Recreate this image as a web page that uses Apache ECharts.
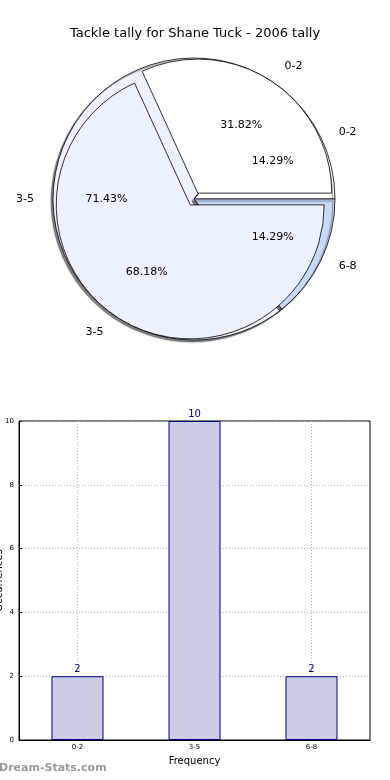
<!DOCTYPE html>
<html>
<head>
<meta charset="utf-8">
<script src="https://cdn.jsdelivr.net/npm/echarts@6/dist/echarts.min.js"></script>
<style>html,body{margin:0;padding:0;background:#fff;}#c{width:390px;height:780px;}</style>
</head>
<body>
<div id="c"></div>
<script>
var titleText = 'Tackle tally for Shane Tuck - 2006 tally';
var pieOuterCats = ['0-2', '3-5'];
var pieOuterPct = [31.82, 68.18];
var pieInnerCats = ['0-2', '3-5', '6-8'];
var pieInnerVals = [2, 10, 2];
var barCats = ['0-2', '3-5', '6-8'];
var barVals = [2, 10, 2];
var yTicks = [0, 2, 4, 6, 8, 10];

var FONT = 'DejaVu Sans';
var center = [194, 199];
var R = 141;

var innerColors = ['#ffffff', '#ebf1fd', '#c6d9f7'];
var outerColors = ['#ffffff', '#ebf1fd'];
var outerOffsets = [7, 3];

function pieData(cats, vals, colors, offsets) {
  return cats.map(function (c, i) {
    var d = { name: c, value: vals[i], itemStyle: { color: colors[i] } };
    if (offsets) { d.selected = true; d.selectedOffset = offsets[i]; }
    return d;
  });
}
function labelData(cats, vals) {
  return cats.map(function (c, i) { return { name: c, value: vals[i] }; });
}
function pctFormatter(vals) {
  var sum = vals.reduce(function (a, b) { return a + b; }, 0);
  return function (p) { return (p.value / sum * 100).toFixed(2) + '%'; };
}

var chart = echarts.init(document.getElementById('c'), null, { renderer: 'canvas' });
chart.setOption({
  animation: false,
  title: {
    text: titleText, left: 'center', top: 22,
    textStyle: { fontFamily: FONT, fontSize: 13, fontWeight: 'normal', color: '#000' }
  },
  graphic: [{
    type: 'text', left: -1, top: 763,
    style: { text: 'Dream-Stats.com', fontFamily: FONT, fontSize: 11, fontWeight: 'bold', fill: '#9a9a9a' }
  }],
  grid: { left: 19, right: 20, top: 421, height: 319, containLabel: false, outerBoundsMode: 'none',
    show: true, borderColor: '#000', borderWidth: 1, backgroundColor: 'transparent' },
  xAxis: {
    type: 'category', data: barCats,
    name: 'Frequency', nameLocation: 'middle', nameGap: 16, nameMoveOverlap: false,
    nameTextStyle: { fontFamily: FONT, fontSize: 10, color: '#000' },
    axisLine: { lineStyle: { color: '#000' } },
    axisTick: { show: true, alignWithLabel: true, inside: true, length: 3, lineStyle: { color: '#000' } },
    axisLabel: { fontFamily: FONT, fontSize: 7, color: '#000', margin: 4 },
    splitLine: { show: true, alignWithLabel: true, lineStyle: { color: '#b0b0b0', type: [1, 2] } }
  },
  yAxis: {
    type: 'value', min: 0, max: 10, interval: 2,
    name: 'Occurrences', nameLocation: 'middle', nameGap: 15, nameRotate: 90, nameMoveOverlap: false,
    nameTextStyle: { fontFamily: FONT, fontSize: 10, color: '#000' },
    axisLine: { show: true, lineStyle: { color: '#000' } },
    axisTick: { show: true, inside: true, length: 3, lineStyle: { color: '#000' } },
    axisLabel: { fontFamily: FONT, fontSize: 7, color: '#000', margin: 5,
      formatter: function (v) { return yTicks.indexOf(v) >= 0 ? String(v) : ''; } },
    splitLine: { show: true, lineStyle: { color: '#b0b0b0', type: [1, 2] } }
  },
  series: [
    {
      type: 'pie', name: 'inner', center: center, radius: [0, R],
      startAngle: 0, clockwise: false, silent: true, z: 1,
      avoidLabelOverlap: false,
      itemStyle: { borderColor: '#000', borderWidth: 0.8, shadowColor: 'rgba(0,0,0,0.5)', shadowBlur: 1, shadowOffsetX: -2, shadowOffsetY: 2 },
      label: { show: true, position: 'outside', formatter: '{b}', fontFamily: FONT, fontSize: 11, color: '#000' },
      labelLine: { show: false, length: 14, length2: 0 },
      emphasis: { disabled: true },
      data: pieData(pieInnerCats, pieInnerVals, innerColors, null)
    },
    {
      type: 'pie', name: 'outer', center: center, radius: [0, R - 7],
      startAngle: 0, clockwise: false, silent: true, z: 2,
      avoidLabelOverlap: false, selectedMode: 'multiple', selectedOffset: 7,
      itemStyle: { borderColor: '#000', borderWidth: 0.8 },
      label: { show: true, position: 'outside', formatter: '{b}', fontFamily: FONT, fontSize: 11, color: '#000' },
      labelLine: { show: false, length: 17, length2: 0 },
      emphasis: { disabled: true },
      data: pieData(pieOuterCats, pieOuterPct, outerColors, outerOffsets)
    },
    {
      type: 'pie', name: 'innerPct', center: center, radius: [28, R],
      startAngle: 0, clockwise: false, silent: true, z: 3,
      avoidLabelOverlap: false,
      itemStyle: { color: 'rgba(0,0,0,0)', borderWidth: 0 },
      label: { show: true, position: 'inside', formatter: pctFormatter(pieInnerVals), fontFamily: FONT, fontSize: 11, color: '#000' },
      labelLine: { show: false },
      emphasis: { disabled: true },
      data: labelData(pieInnerCats, pieInnerVals)
    },
    {
      type: 'pie', name: 'outerPct', center: center, radius: [28, R],
      startAngle: 0, clockwise: false, silent: true, z: 3,
      avoidLabelOverlap: false,
      itemStyle: { color: 'rgba(0,0,0,0)', borderWidth: 0 },
      label: { show: true, position: 'inside', formatter: pctFormatter(pieOuterPct), fontFamily: FONT, fontSize: 11, color: '#000' },
      labelLine: { show: false },
      emphasis: { disabled: true },
      data: labelData(pieOuterCats, pieOuterPct)
    },
    {
      type: 'bar', data: barVals, barWidth: 52, z: 3,
      itemStyle: { color: '#ccccE6', borderColor: '#000080', borderWidth: 1 },
      label: { show: true, position: 'top', distance: 2, fontFamily: FONT, fontSize: 10, color: '#000080' },
      emphasis: { disabled: true }
    }
  ]
});
</script>
</body>
</html>
